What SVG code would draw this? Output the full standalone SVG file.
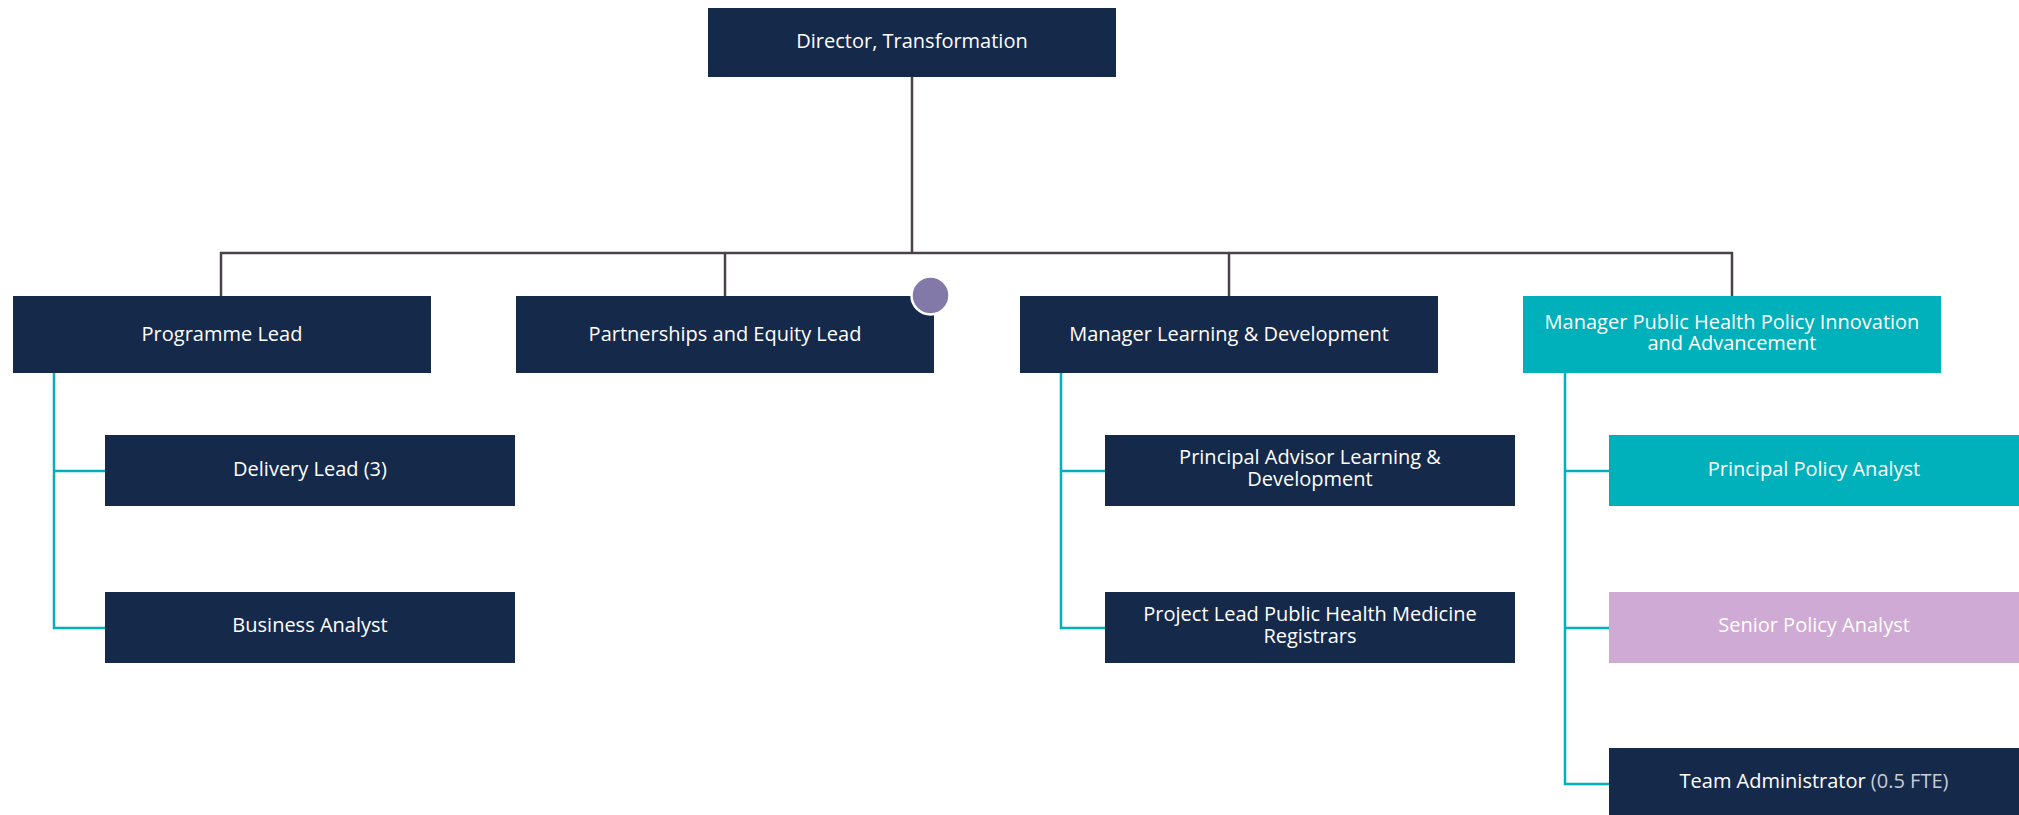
<svg xmlns="http://www.w3.org/2000/svg" width="2019" height="815" viewBox="0 0 2019 815">
<style>
.navy{fill:#15294b}
.teal{fill:#00b0ba}
.lav{fill:#cfaad4}
.t{font-family:"Open Sans","Noto Sans","Liberation Sans",sans-serif;font-size:20px;fill:#ffffff;text-anchor:middle}
.dim{fill:#c9ccd4}
.gl{stroke:#4a4249;stroke-width:2.5;fill:none}
.tl{stroke:#00b0ba;stroke-width:2.5;fill:none}
</style>
<rect width="2019" height="815" fill="#ffffff"/>
<g id="connectors">
<path class="gl" d="M912 77V253M221 296V253H1732V296M725 253V296M1229 253V296"/>
<path class="tl" d="M54 373V628H105M54 471H105"/>
<path class="tl" d="M1061 373V628H1105M1061 471H1105"/>
<path class="tl" d="M1565 373V784H1609M1565 471H1609M1565 628H1609"/>
</g>
<g id="director"><rect class="navy" x="708" y="8" width="408" height="69"/><text class="t" x="912" y="48">Director, Transformation</text></g>
<g id="programme-lead"><rect class="navy" x="13" y="296" width="418" height="77"/><text class="t" x="222" y="341">Programme Lead</text></g>
<g id="partnerships"><rect class="navy" x="516" y="296" width="418" height="77"/><text class="t" x="725" y="341">Partnerships and Equity Lead</text>
<circle cx="930.5" cy="295.5" r="19" fill="#8279a9" stroke="#ffffff" stroke-width="2.5"/></g>
<g id="manager-ld"><rect class="navy" x="1020" y="296" width="418" height="77"/><text class="t" x="1229" y="341">Manager Learning &amp; Development</text></g>
<g id="manager-php"><rect class="teal" x="1523" y="296" width="418" height="77"/><text class="t" x="1732" y="329">Manager Public Health Policy Innovation</text><text class="t" x="1732" y="350">and Advancement</text></g>
<g id="delivery-lead"><rect class="navy" x="105" y="435" width="410" height="71"/><text class="t" x="310" y="476">Delivery Lead (3)</text></g>
<g id="business-analyst"><rect class="navy" x="105" y="592" width="410" height="71"/><text class="t" x="310" y="632">Business Analyst</text></g>
<g id="principal-advisor"><rect class="navy" x="1105" y="435" width="410" height="71"/><text class="t" x="1310" y="464">Principal Advisor Learning &amp;</text><text class="t" x="1310" y="486">Development</text></g>
<g id="project-lead"><rect class="navy" x="1105" y="592" width="410" height="71"/><text class="t" x="1310" y="621">Project Lead Public Health Medicine</text><text class="t" x="1310" y="643">Registrars</text></g>
<g id="principal-policy"><rect class="teal" x="1609" y="435" width="410" height="71"/><text class="t" x="1814" y="476">Principal Policy Analyst</text></g>
<g id="senior-policy"><rect class="lav" x="1609" y="592" width="410" height="71"/><text class="t" x="1814" y="632" fill="#f4f0f5">Senior Policy Analyst</text></g>
<g id="team-admin"><rect class="navy" x="1609" y="748" width="410" height="80"/><text class="t" x="1814" y="788">Team Administrator <tspan class="dim">(0.5 FTE)</tspan></text></g>
</svg>
